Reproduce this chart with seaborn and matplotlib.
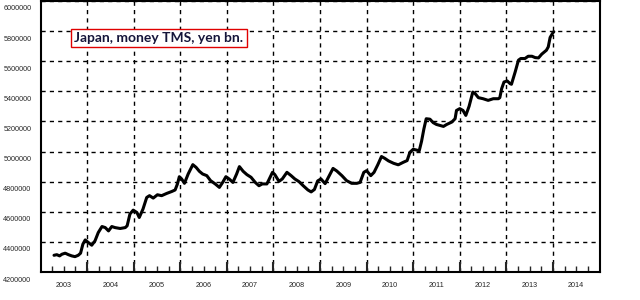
import matplotlib
matplotlib.use("Agg")
import matplotlib.pyplot as plt
import numpy as np
import pandas as pd
import seaborn as sns
from matplotlib.transforms import ScaledTranslation
from matplotlib import font_manager

# ---- data ----
t_years = [
    2003.29, 2003.35, 2003.41, 2003.46, 2003.53, 2003.60, 2003.67, 2003.74, 2003.81, 2003.86,
    2003.91, 2003.96, 2004.03, 2004.10, 2004.17, 2004.24, 2004.32, 2004.39, 2004.46, 2004.53,
    2004.60, 2004.71, 2004.82, 2004.86, 2004.92, 2004.99, 2005.07, 2005.12, 2005.20, 2005.28,
    2005.34, 2005.42, 2005.51, 2005.60, 2005.71, 2005.82, 2005.89, 2005.94, 2005.98, 2006.03,
    2006.09, 2006.17, 2006.27, 2006.34, 2006.41, 2006.48, 2006.57, 2006.65, 2006.75, 2006.84,
    2006.91, 2006.98, 2007.05, 2007.13, 2007.21, 2007.27, 2007.35, 2007.43, 2007.52, 2007.61,
    2007.69, 2007.76, 2007.86, 2007.93, 2007.98, 2008.03, 2008.12, 2008.19, 2008.29, 2008.38,
    2008.46, 2008.55, 2008.64, 2008.74, 2008.81, 2008.88, 2008.95, 2009.02, 2009.11, 2009.19,
    2009.28, 2009.36, 2009.47, 2009.57, 2009.68, 2009.79, 2009.86, 2009.94, 2010.00, 2010.09,
    2010.16, 2010.24, 2010.32, 2010.39, 2010.47, 2010.58, 2010.68, 2010.79, 2010.87, 2010.93,
    2011.00, 2011.06, 2011.13, 2011.18, 2011.23, 2011.28, 2011.36, 2011.43, 2011.50, 2011.58,
    2011.65, 2011.72, 2011.83, 2011.90, 2011.93, 2012.00, 2012.07, 2012.13, 2012.20, 2012.28,
    2012.33, 2012.40, 2012.50, 2012.61, 2012.72, 2012.83, 2012.86, 2012.90, 2012.95, 2013.02,
    2013.08, 2013.11, 2013.19, 2013.26, 2013.31, 2013.40, 2013.47, 2013.55, 2013.62, 2013.69,
    2013.76, 2013.86, 2013.90, 2013.94, 2014.00, 2014.02,
]
tms_thousands = [
    4311, 4315, 4307, 4318, 4325, 4315, 4307, 4302, 4311, 4325,
    4385, 4413, 4395, 4378, 4407, 4462, 4502, 4495, 4473, 4502,
    4495, 4489, 4495, 4507, 4585, 4611, 4595, 4562, 4618, 4695,
    4707, 4691, 4713, 4707, 4722, 4735, 4745, 4785, 4833, 4818,
    4789, 4851, 4913, 4895, 4869, 4851, 4840, 4807, 4785, 4762,
    4795, 4833, 4818, 4795, 4851, 4900, 4869, 4847, 4829, 4795,
    4773, 4785, 4785, 4829, 4862, 4847, 4802, 4818, 4862, 4840,
    4818, 4800, 4773, 4745, 4732, 4748, 4805, 4818, 4787, 4835,
    4888, 4871, 4840, 4807, 4789, 4789, 4795, 4862, 4873, 4840,
    4862, 4912, 4967, 4955, 4938, 4922, 4912, 4929, 4940, 4995,
    5015, 5011, 5005, 5068, 5150, 5218, 5215, 5192, 5180, 5173,
    5167, 5180, 5196, 5218, 5273, 5285, 5273, 5240, 5300, 5395,
    5385, 5358, 5351, 5340, 5351, 5351, 5358, 5418, 5462, 5469,
    5451, 5447, 5529, 5607, 5618, 5618, 5633, 5633, 5624, 5622,
    5647, 5673, 5695, 5758, 5789, 5796,
]
year_labels = [str(y) for y in range(2003, 2015)]
y_ticks = list(range(4200000, 6000001, 200000))
title_text = "Japan, money TMS, yen bn."

df = pd.DataFrame({"t": t_years, "value": [v * 1000 for v in tms_thousands]})

sns.set_style("white")
installed = {f.name for f in font_manager.fontManager.ttflist}
tick_family = [f for f in ["Liberation Sans Narrow", "Liberation Sans", "DejaVu Sans"] if f in installed]
narrow = "Liberation Sans Narrow" in installed
tick_size = 6.0 if narrow else 5.2

fig = plt.figure(figsize=(6.4, 3.0), dpi=100)
W, H = 640, 300
left, right, top, bottom = 40.5, 599.5, 1.0, 272.0
ax = fig.add_axes([left / W, 1 - bottom / H, (right - left) / W, (bottom - top) / H])

sns.lineplot(data=df, x="t", y="value", ax=ax, color="black", linewidth=2.2, sort=False)

ax.set_xlim(2003, 2015)
ax.set_ylim(4200000, 6000000)
ax.set_xlabel("")
ax.set_ylabel("")

for sp in ax.spines.values():
    sp.set_visible(True)
    sp.set_color("black")
    sp.set_linewidth(1.5)

# x: year boundaries as major ticks (no labels), quarters as minor ticks
ax.set_xticks(list(range(2004, 2015)))
ax.set_xticklabels([])
ax.set_xticks([y + q * 0.25 for y in range(2003, 2015) for q in (1, 2, 3)], minor=True)
ax.tick_params(axis="x", which="major", direction="in", length=7, width=1.5, bottom=True, top=False)
ax.tick_params(axis="x", which="minor", direction="in", length=4, width=1.0, bottom=True, top=False)

# year labels centered in each year
sec = ax.secondary_xaxis("bottom")
sec.set_xticks([int(y) + 0.5 for y in year_labels])
sec.set_xticklabels(year_labels)
sec.tick_params(length=0, pad=7, labelsize=tick_size)
sec.spines["bottom"].set_visible(False)
for lbl in sec.get_xticklabels():
    lbl.set_fontfamily(tick_family)

# y axis
ax.set_yticks(y_ticks)
ax.set_yticklabels([str(v) for v in y_ticks])
ax.tick_params(axis="y", which="major", length=0, pad=6.5, labelsize=tick_size, left=True)
off = ScaledTranslation(0, -7 / 100, fig.dpi_scale_trans)
for lbl in ax.get_yticklabels():
    lbl.set_fontfamily(tick_family)
    lbl.set_transform(lbl.get_transform() + off)

ax.grid(True, which="major", axis="both", color="black", linestyle=(0, (3, 3)), linewidth=1.0)
ax.set_axisbelow(True)

fig.text(159 / W, 1 - 38 / H, title_text, ha="center", va="center",
         fontsize=10, fontweight="bold", family=["Lato", "DejaVu Sans"], color="#15153a",
         bbox=dict(boxstyle="square,pad=0.25", facecolor="white", edgecolor="#e00000", linewidth=1.0))

fig.savefig("out.png", dpi=100, facecolor="white")
